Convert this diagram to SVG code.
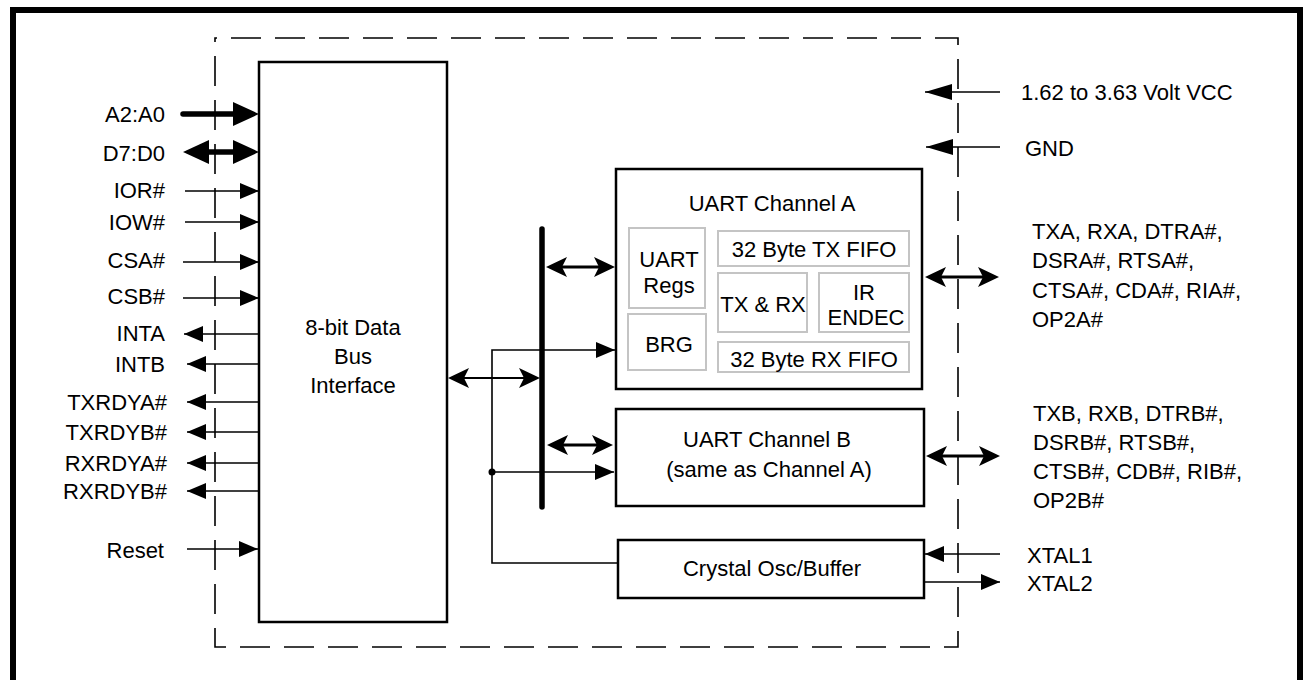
<svg xmlns="http://www.w3.org/2000/svg" width="1308" height="680" viewBox="0 0 1308 680">
<defs>
<style>
text{font-family:"Liberation Sans",Arial,sans-serif;font-size:22px;fill:#000}
.r{text-anchor:end}
.m{text-anchor:middle}
.box{fill:#fff;stroke:#000;stroke-width:2.5}
.sub{fill:#fff;stroke:#c4c4c4;stroke-width:2}
.thin{stroke:#000;stroke-width:1.6;fill:none}
.med{stroke:#000;stroke-width:3;fill:none}
.med2{stroke:#000;stroke-width:2.2;fill:none}
.thick{stroke:#000;stroke-width:5.5;fill:none}
</style>
<marker id="aThin" markerUnits="userSpaceOnUse" markerWidth="19" markerHeight="16" refX="19" refY="8" orient="auto-start-reverse"><path d="M0,0 L19,8 L0,16 z" fill="#000"/></marker>
<marker id="aThick" markerUnits="userSpaceOnUse" markerWidth="26" markerHeight="24" refX="16" refY="12" orient="auto-start-reverse"><path d="M0,0 L26,12 L0,24 z" fill="#000"/></marker>
<marker id="aMed" markerUnits="userSpaceOnUse" markerWidth="21" markerHeight="20" refX="13" refY="10" orient="auto-start-reverse"><path d="M0,0 L21,10 L0,20 L5,10 z" fill="#000"/></marker>
<marker id="aLong" markerUnits="userSpaceOnUse" markerWidth="27" markerHeight="16" refX="27" refY="8" orient="auto-start-reverse"><path d="M0,0 L27,8 L0,16 z" fill="#000"/></marker>
</defs>
<rect x="0" y="0" width="1308" height="680" fill="#fff"/>
<rect id="frame" x="13" y="10" width="1287" height="700" fill="none" stroke="#000" stroke-width="6"/>
<path id="chip-outline" d="M215,38 H958 V647 H215 Z" fill="none" stroke="#000" stroke-width="1.6" stroke-dasharray="30 14" stroke-dashoffset="28"/>

<g id="bus-interface">
<rect class="box" x="259" y="62" width="188" height="560" stroke-width="2"/>
<text class="m" x="353" y="335">8-bit Data</text>
<text class="m" x="353" y="364">Bus</text>
<text class="m" x="353" y="393">Interface</text>
</g>

<g id="uart-a">
<rect class="box" x="616" y="169" width="306" height="220"/>
<text class="m" x="772" y="211">UART Channel A</text>
<g id="uart-regs"><rect class="sub" x="629" y="228" width="76" height="80"/><text class="m" x="669" y="267">UART</text><text class="m" x="669" y="293">Regs</text></g>
<g id="brg"><rect class="sub" x="628" y="314" width="78" height="56"/><text class="m" x="669" y="352">BRG</text></g>
<g id="tx-fifo"><rect class="sub" x="718" y="231" width="191" height="35"/><text class="m" x="814" y="257">32 Byte TX FIFO</text></g>
<g id="txrx"><rect class="sub" x="718" y="273" width="89" height="59"/><text class="m" x="763" y="312">TX &amp; RX</text></g>
<g id="irendec"><rect class="sub" x="819" y="273" width="90" height="59"/><text class="m" x="864" y="300">IR</text><text class="m" x="866" y="325">ENDEC</text></g>
<g id="rx-fifo"><rect class="sub" x="718" y="342" width="191" height="30"/><text class="m" x="814" y="367">32 Byte RX FIFO</text></g>
</g>

<g id="uart-b">
<rect class="box" x="616" y="409" width="308" height="97"/>
<text class="m" x="767" y="447">UART Channel B</text>
<text class="m" x="769" y="477">(same as Channel A)</text>
</g>

<g id="crystal">
<rect class="box" x="618" y="540" width="306" height="58"/>
<text class="m" x="772" y="576">Crystal Osc/Buffer</text>
</g>

<g id="labels">
<text class="r" x="165" y="122">A2:A0</text>
<text class="r" x="165" y="161">D7:D0</text>
<text class="r" x="165" y="198">IOR#</text>
<text class="r" x="165" y="230">IOW#</text>
<text class="r" x="165" y="268">CSA#</text>
<text class="r" x="165" y="304">CSB#</text>
<text class="r" x="165" y="341">INTA</text>
<text class="r" x="165" y="372">INTB</text>
<text class="r" x="167" y="410">TXRDYA#</text>
<text class="r" x="167" y="440">TXRDYB#</text>
<text class="r" x="167" y="471">RXRDYA#</text>
<text class="r" x="167" y="499">RXRDYB#</text>
<text class="r" x="164" y="558">Reset</text>
<text x="1021" y="100">1.62 to 3.63 Volt VCC</text>
<text x="1025" y="156">GND</text>
<text x="1032" y="239">TXA, RXA, DTRA#,</text>
<text x="1032" y="268">DSRA#, RTSA#,</text>
<text x="1032" y="298">CTSA#, CDA#, RIA#,</text>
<text x="1032" y="327">OP2A#</text>
<text x="1033" y="421">TXB, RXB, DTRB#,</text>
<text x="1033" y="450">DSRB#, RTSB#,</text>
<text x="1033" y="479">CTSB#, CDB#, RIB#,</text>
<text x="1033" y="508">OP2B#</text>
<text x="1027" y="563">XTAL1</text>
<text x="1027" y="591">XTAL2</text>
</g>

<g id="connectors">
<line class="thick" x1="183" y1="114" x2="249" y2="114" stroke-linecap="round" marker-end="url(#aThick)"/>
<line class="thick" x1="193" y1="152" x2="249" y2="152" marker-start="url(#aThick)" marker-end="url(#aThick)"/>
<line class="thin" x1="185" y1="191" x2="259" y2="191" marker-end="url(#aThin)"/>
<line class="thin" x1="185" y1="222" x2="259" y2="222" marker-end="url(#aThin)"/>
<line class="thin" x1="183" y1="262" x2="259" y2="262" marker-end="url(#aThin)"/>
<line class="thin" x1="183" y1="298" x2="259" y2="298" marker-end="url(#aThin)"/>
<line class="thin" x1="259" y1="334" x2="184" y2="334" marker-end="url(#aThin)"/>
<line class="thin" x1="259" y1="364" x2="187" y2="364" marker-end="url(#aThin)"/>
<line class="thin" x1="259" y1="402" x2="187" y2="402" marker-end="url(#aThin)"/>
<line class="thin" x1="259" y1="432" x2="187" y2="432" marker-end="url(#aThin)"/>
<line class="thin" x1="259" y1="463" x2="187" y2="463" marker-end="url(#aThin)"/>
<line class="thin" x1="259" y1="491" x2="187" y2="491" marker-end="url(#aThin)"/>
<line class="thin" x1="187" y1="549" x2="258" y2="549" marker-end="url(#aThin)"/>

<line id="int-bus" x1="542" y1="229" x2="542" y2="507" stroke="#000" stroke-width="5.5" stroke-linecap="round"/>
<line class="med2" x1="456" y1="378" x2="532" y2="378" marker-start="url(#aMed)" marker-end="url(#aMed)"/>
<line class="med" x1="554" y1="267" x2="607" y2="267" marker-start="url(#aMed)" marker-end="url(#aMed)"/>
<line class="med" x1="555" y1="445" x2="605" y2="445" marker-start="url(#aMed)" marker-end="url(#aMed)"/>
<polyline class="thin" points="618,563 492,563 492,350 615,350" marker-end="url(#aThin)"/>
<line class="thin" x1="492" y1="472" x2="614" y2="472" marker-end="url(#aThin)"/>
<circle cx="492" cy="472" r="3.5" fill="#000"/>

<line class="thin" x1="1000" y1="92" x2="925" y2="92" marker-end="url(#aLong)"/>
<line class="thin" x1="1000" y1="147" x2="926" y2="147" marker-end="url(#aLong)"/>
<line class="med" x1="933" y1="277" x2="991" y2="277" marker-start="url(#aMed)" marker-end="url(#aMed)"/>
<line class="med" x1="934" y1="456" x2="992" y2="456" marker-start="url(#aMed)" marker-end="url(#aMed)"/>
<line class="thin" x1="1000" y1="554" x2="925" y2="554" marker-end="url(#aThin)"/>
<line class="thin" x1="924" y1="582" x2="1000" y2="582" marker-end="url(#aThin)"/>
</g>
</svg>
